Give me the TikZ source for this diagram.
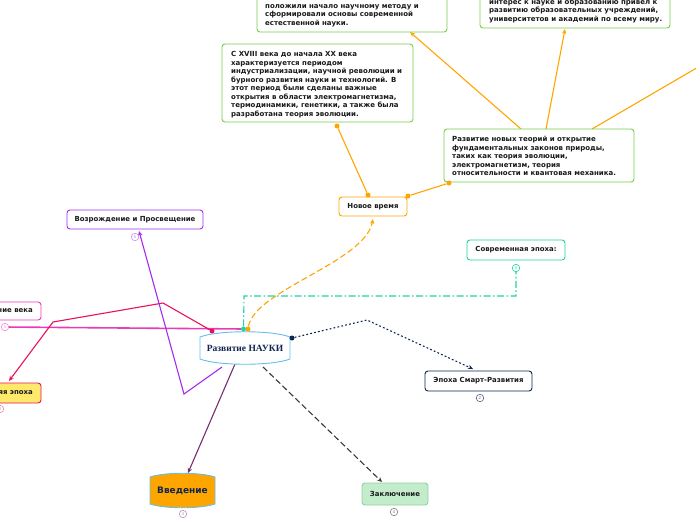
\documentclass[tikz,border=0pt]{standalone}
\usepackage{fontspec}
\setmainfont{DejaVu Sans}
\newfontfamily\centerfont{Liberation Serif}
\usetikzlibrary{arrows.meta}
\definecolor{grn}{HTML}{7ACC4C}
\definecolor{org}{HTML}{FFA500}
\definecolor{purp}{HTML}{A42BF0}
\definecolor{teal2}{HTML}{22D3A0}
\definecolor{mag}{HTML}{E83CB4}
\definecolor{crim}{HTML}{E8125C}
\definecolor{navy}{HTML}{0E2650}
\definecolor{plum}{HTML}{7A2C6C}
\definecolor{dgrey}{HTML}{3A3A3A}
\definecolor{cblue}{HTML}{62C0EA}
\definecolor{yel}{HTML}{FFE96B}
\definecolor{lgreen}{HTML}{C2ECCB}
\definecolor{lgreenb}{HTML}{8ED39A}
\definecolor{txtc}{HTML}{1A1A1A}
\pgfdeclarelayer{bg}
\pgfsetlayers{bg,main}
\begin{document}
\begin{tikzpicture}[x=1pt,y=-1pt,
  >={Stealth[length=5pt,width=4.5pt]},
  para/.style={font=\fontsize{7}{8.5}\selectfont\bfseries, text=txtc, align=left, inner sep=0pt, anchor=base west},
  lbl/.style={font=\fontsize{6.95}{8}\selectfont\bfseries, text=txtc, inner sep=0pt},
  rbox/.style={draw=#1, line width=0.9pt, rounded corners=3pt, fill=white},
  numc/.style={circle, draw=#1, fill=white, line width=0.6pt, inner sep=0pt, minimum size=7.5pt, text=#1, font=\fontsize{4}{4}\selectfont},
  dotn/.style={circle, fill=#1, inner sep=0pt, minimum size=5pt},
  conn/.style={line width=1.1pt}
]
\useasboundingbox (0,0) rectangle (696,520);
\clip (0,0) rectangle (696,520);

% ---------- paragraph boxes (anchor = baseline of last line) ----------
\draw[rbox=grn] (257,-12) rectangle (447,32);
\node[para] (ta) at (265,25.3) {положили начало научному методу и\\сформировали основы современной\\естественной науки.};
\coordinate (boxA) at (410,32);

\draw[rbox=grn] (480,-12) rectangle (670,28);
\node[para] (tb) at (489,21) {интерес к науке и образованию привел к\\развитию образовательных учреждений,\\университетов и академий по всему миру.};
\coordinate (boxB) at (565,29);

\draw[rbox=grn] (222,44) rectangle (413,122);
\node[para] (tc) at (231,116.2) {С XVIII века до начала XX века\\характеризуется периодом\\индустриализации, научной революции и\\бурного развития науки и технологий. В\\этот период были сделаны важные\\открытия в области электромагнетизма,\\термодинамики, генетики, а также была\\разработана теория эволюции.};

\draw[rbox=grn] (444,129) rectangle (634,182);
\node[para] (td) at (452,175.7) {Развитие новых теорий и открытие\\фундаментальных законов природы,\\таких как теория эволюции,\\электромагнетизм, теория\\относительности и квантовая механика.};
\coordinate (dA) at (521,129);
\coordinate (dB) at (546,129);
\coordinate (dC) at (592,129);
\coordinate (offr) at (700,66);

% ---------- label boxes ----------
\node[rbox=org, minimum width=68pt, minimum height=19pt, lbl] (novoe) at (373,206.5) {Новое время};
\node[rbox=purp, minimum width=136pt, minimum height=19pt, lbl] (vozr) at (135,219.5) {Возрождение и Просвещение};
\node[rbox=teal2, minimum width=98pt, minimum height=20pt, lbl] (sovr) at (516,250) {Современная эпоха:};
\draw[rbox=mag] (-40,302) rectangle (41,320);
\node[lbl, anchor=east] (sred) at (33,311) {Средние века};
\draw[rbox=crim, fill=yel] (-40,383) rectangle (41,403);
\node[lbl, anchor=east] (drev) at (33,393) {Древняя эпоха};
\node[rbox=navy, minimum width=107pt, minimum height=20pt, lbl] (smart) at (478.5,381) {Эпоха Смарт-Развития};
\node[rbox=lgreenb, fill=lgreen, minimum width=66pt, minimum height=22pt, lbl] (zakl) at (395,494) {Заключение};

% central node
\draw[cblue, fill=white, line width=0.9pt] (200,337) .. controls (218,330) and (272,330) .. (290,337) -- (290,359) .. controls (272,366) and (218,366) .. (200,359) -- cycle;
\node[font=\centerfont\bfseries\fontsize{9.5}{10}\selectfont, text=navy, inner sep=0pt] (center) at (245,348.5) {Развитие НАУКИ};

% Введение
\draw[cblue, fill=org, line width=0.9pt] (150,477) .. controls (165,472) and (200,472) .. (215,477) -- (215,504) .. controls (200,509) and (165,509) .. (150,504) -- cycle;
\node[font=\fontsize{9}{10}\selectfont\bfseries, text=navy, inner sep=0pt] (vved) at (182.5,490.5) {Введение};

% number circles
\node[numc=purp!50] (n1) at (135,237) {6};
\node[numc=teal2] (n2) at (516,268) {3};
\node[numc=mag!60] (n3) at (5,327) {5};
\node[numc=crim!50] (n4) at (0,409) {9};
\node[numc=navy!70] (n5) at (480,398) {2};
\node[numc=plum!50] (n6) at (183,514) {4};
\node[numc=black!50] (n7) at (394,512) {4};

% dots and connector points
\node[dotn=org] (dotc) at (337,126) {};
\node[dotn=org] (dotn1) at (368,195) {};
\node[dotn=org] (dotn2) at (408,196) {};
\node[dotn=org] (dotd) at (449,183) {};
\node[dotn=crim] (dcrim) at (212,331) {};
\node[dotn=teal2] (dteal) at (243.5,329) {};
\node[dotn=org] (dorg) at (248,329) {};
\node[dotn=navy] (dnavy) at (292,338) {};

\coordinate (crim1) at (163,303);
\coordinate (crim2) at (53,322);
\coordinate (drevtip) at (9,381);
\coordinate (purpS) at (222,367);
\coordinate (purp1) at (184,394);
\coordinate (vozrtip) at (139,231);
\coordinate (plumS) at (235,364);
\coordinate (vvedtip) at (188,473);
\coordinate (greyS) at (263,367);
\coordinate (zakltip) at (382,482);
\coordinate (navy1) at (367,320);
\coordinate (smarttip) at (473,369);
\coordinate (teal1) at (244,296);
\coordinate (teal3) at (516,296);
\coordinate (novotip) at (373,219);

\begin{pgfonlayer}{bg}
  \draw[conn, org] (dotn1) -- (dotc);
  \draw[conn, org] (dotn2) -- (dotd);
  \draw[conn, org, ->] (dA) -- (boxA);
  \draw[conn, org, ->] (dB) -- (boxB);
  \draw[conn, org] (dC) -- (offr);
  \draw[conn, org, dash pattern=on 6pt off 3pt, ->] (dorg) .. controls (255,290) and (365,262) .. (novotip);
  \draw[conn, teal2, dash pattern=on 7pt off 2.5pt on 1.5pt off 2.5pt] (dteal) -- (teal1) -- (teal3) -- (n2);
  \draw[line width=1.6pt, mag] (dteal) -- (n3);
  \draw[conn, crim, ->] (dcrim) -- (crim1) -- (crim2) -- (drevtip);
  \draw[conn, purp, ->] (purpS) -- (purp1) -- (vozrtip);
  \draw[conn, plum, ->] (plumS) -- (vvedtip);
  \draw[conn, dgrey, dash pattern=on 6pt off 3pt, ->] (greyS) -- (zakltip);
  \draw[conn, navy, dash pattern=on 1.8pt off 2.2pt, ->] (dnavy) -- (navy1) -- (smarttip);
\end{pgfonlayer}
\end{tikzpicture}
\end{document}
